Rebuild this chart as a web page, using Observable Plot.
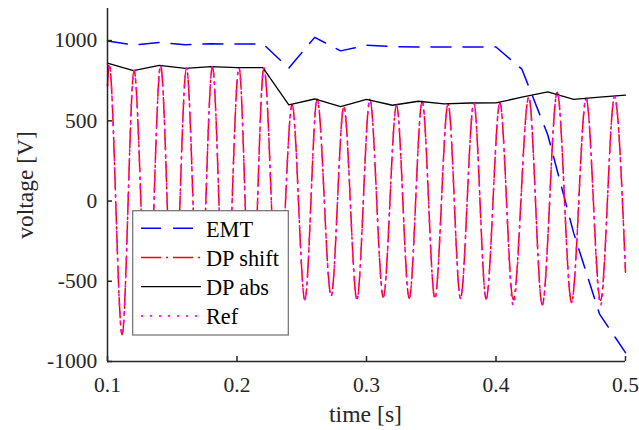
<!DOCTYPE html>
<html>
<head>
<meta charset="utf-8">
<script src="https://cdn.jsdelivr.net/npm/d3@7"></script>
<script src="https://cdn.jsdelivr.net/npm/@observablehq/plot@0.6"></script>
<style>
  html, body { margin: 0; padding: 0; background: #ffffff; }
  #chart { width: 639px; height: 430px; }
  #chart svg text { font-family: "Liberation Serif", "Times New Roman", Times, serif; }
</style>
</head>
<body>
<div id="chart"></div>
<script>
// ---- data ----
const seriesNames = ["EMT", "DP shift", "DP abs", "Ref"];

const emtTime = [0.10, 0.12, 0.14, 0.16, 0.18, 0.20, 0.22, 0.24, 0.26, 0.28, 0.30,
                 0.32, 0.34, 0.36, 0.38, 0.40, 0.42, 0.44, 0.46, 0.48, 0.50];
const emtVolt = [998, 972, 988, 974, 980, 978, 980, 828, 1020, 936, 971,
                 963, 960, 960, 960, 960, 822, 412, -200, -705, -945];

const absTime = [0.10, 0.12, 0.14, 0.16, 0.18, 0.20, 0.22, 0.24, 0.26, 0.28, 0.30,
                 0.32, 0.34, 0.36, 0.38, 0.40, 0.42, 0.44, 0.46, 0.48, 0.50];
const absVolt = [860, 813, 846, 827, 838, 832, 831, 600, 636, 588, 634,
                 597, 622, 606, 611, 612, 647, 680, 634, 648, 660];

// peaks / troughs of the oscillating waveforms
const shiftTime = [0.1000, 0.1013, 0.1113, 0.1205, 0.1310, 0.1410, 0.1510, 0.1610, 0.1710, 0.1810,
                   0.1910, 0.2015, 0.2110, 0.2208, 0.2317, 0.2426, 0.2524, 0.2619, 0.2727, 0.2825,
                   0.2926, 0.3026, 0.3130, 0.3232, 0.3330, 0.3430, 0.3528, 0.3630, 0.3726, 0.3829,
                   0.3924, 0.4030, 0.4133, 0.4253, 0.4357, 0.4473, 0.4583, 0.4696, 0.4807, 0.4915,
                   0.5000];
const shiftVolt = [720, 855, -833, 815, -815, 846, -820, 827, -825, 838,
                   -830, 832, -830, 831, -720, 600, -616, 636, -592, 588,
                   -613, 634, -600, 597, -607, 622, -607, 606, -607, 611,
                   -612, 612, -614, 648, -648, 678, -630, 640, -620, 650,
                   -443];

const refTime = [0.1000, 0.1013, 0.1113, 0.1205, 0.1310, 0.1410, 0.1510, 0.1610, 0.1710, 0.1810,
                 0.1910, 0.2015, 0.2110, 0.2208, 0.2317, 0.2426, 0.2524, 0.2619, 0.2727, 0.2825,
                 0.2926, 0.3026, 0.3130, 0.3232, 0.3330, 0.3430, 0.3528, 0.3630, 0.3726, 0.3829,
                 0.3924, 0.4030, 0.4133, 0.4253, 0.4357, 0.4473, 0.4583, 0.4696, 0.4807, 0.4915,
                 0.5000];
const refVolt = [715, 852, -835, 815, -815, 846, -820, 827, -825, 838,
                 -830, 832, -830, 831, -720, 602, -616, 636, -594, 588,
                 -613, 634, -600, 597, -607, 622, -607, 606, -607, 611,
                 -612, 612, -650, 648, -650, 678, -632, 640, -650, 650,
                 -445];

const xTickValues = [0.1, 0.2, 0.3, 0.4, 0.5];
const xTickLabels = ["0.1", "0.2", "0.3", "0.4", "0.5"];
const yTickValues = [-1000, -500, 0, 500, 1000];
const yTickLabels = ["-1000", "-500", "0", "500", "1000"];
const xLabel = "time [s]";
const yLabel = "voltage [V]";

// ---- build tables ----
const zip = (ts, vs) => ts.map((t, i) => ({t, v: vs[i]}));
const emt = zip(emtTime, emtVolt);
const dpShift = zip(shiftTime, shiftVolt);
const dpAbs = zip(absTime, absVolt);
const ref = zip(refTime, refVolt);

const FONT = "Liberation Serif, Times New Roman, Times, serif";
const AX = "#262626";
const colors = ["#0000ff", "#ff0000", "#000000", "#ff00ff"];
const dashes = ["20,12", "20,5,2,5", null, "2,7"];
const widths = [1.5, 1.5, 1.3, 1.6];

const chart = Plot.plot({
  width: 639,
  height: 430,
  marginLeft: 107,
  marginRight: 14,
  marginTop: 8,
  marginBottom: 69,
  style: {fontFamily: FONT, fontSize: "21.5px", color: AX, background: "#ffffff"},
  x: {domain: [0.1, 0.5]},
  y: {domain: [-1000, 1200]},
  marks: [
    Plot.line(emt, {x: "t", y: "v", stroke: colors[0], strokeWidth: widths[0], strokeDasharray: dashes[0]}),
    Plot.line(dpShift, {x: "t", y: "v", curve: "monotone-x", stroke: colors[1], strokeWidth: widths[1], strokeDasharray: dashes[1]}),
    Plot.line(dpAbs, {x: "t", y: "v", stroke: colors[2], strokeWidth: widths[2]}),
    Plot.line(ref, {x: "t", y: "v", curve: "monotone-x", stroke: colors[3], strokeWidth: widths[3], strokeDasharray: dashes[3]}),
    Plot.ruleY([-1000], {stroke: AX, strokeWidth: 1.5}),
    Plot.ruleX([0.1], {stroke: AX, strokeWidth: 1.5}),
    Plot.axisX({ticks: xTickValues, tickFormat: (d) => xTickLabels[xTickValues.indexOf(d)], tickSize: -5, tickPadding: 20.7,
                stroke: AX, strokeWidth: 1.5, label: null, fill: AX, fontFamily: FONT, fontSize: 21.5}),
    Plot.axisY({ticks: yTickValues, tickFormat: (d) => yTickLabels[yTickValues.indexOf(d)], tickSize: -5, tickPadding: 15.3,
                stroke: AX, strokeWidth: 1.5, label: null, fill: AX, fontFamily: FONT, fontSize: 21.5})
  ]
});

document.getElementById("chart").appendChild(chart);

const svg = d3.select(chart);

// ---- axis titles ----
svg.append("text")
  .attr("transform", "translate(365.5,414.4)")
  .attr("text-anchor", "middle")
  .attr("dy", "0.32em")
  .style("font-family", FONT).style("font-size", "23.7px")
  .attr("fill", AX)
  .text(xLabel);
svg.append("text")
  .attr("transform", "translate(25.4,185) rotate(-90)")
  .attr("text-anchor", "middle")
  .attr("dy", "0.32em")
  .style("font-family", FONT).style("font-size", "23.5px")
  .attr("fill", AX)
  .text(yLabel);

// ---- legend (inside the svg, over the plot) ----
const lg = svg.append("g").attr("class", "legend");
lg.append("rect")
  .attr("x", 132.7).attr("y", 210.7)
  .attr("width", 155.6).attr("height", 124.3)
  .attr("fill", "#ffffff").attr("stroke", "#6e6e6e").attr("stroke-width", 1.2);
seriesNames.forEach((name, i) => {
  const base = 236.6 + i * 29.2;
  const ly = base - 8.3;
  lg.append("line")
    .attr("x1", 141).attr("x2", 201).attr("y1", ly).attr("y2", ly)
    .attr("stroke", colors[i]).attr("stroke-width", widths[i])
    .attr("stroke-dasharray", dashes[i]);
  lg.append("text")
    .attr("x", 206).attr("y", base)
    .attr("text-anchor", "start")
    .style("font-family", FONT).style("font-size", "22.3px")
    .attr("fill", "#000000")
    .text(name);
});
</script>
</body>
</html>
